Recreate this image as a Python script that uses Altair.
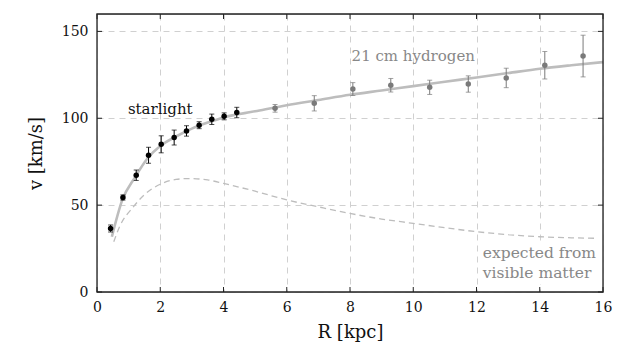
import altair as alt
import pandas as pd

# starlight measurements (kpc, km/s, error)
star_r = [0.43, 0.82, 1.24, 1.63, 2.03, 2.44, 2.83, 3.23, 3.63, 4.02, 4.42]
star_v = [36.6, 54.4, 67.2, 78.7, 85.0, 88.9, 92.7, 96.0, 99.4, 101.1, 103.3]
star_e = [2.0, 1.5, 3.0, 4.6, 4.9, 4.3, 3.0, 2.0, 3.0, 2.0, 3.0]

# 21 cm hydrogen measurements
h_r = [5.63, 6.87, 8.09, 9.29, 10.52, 11.74, 12.94, 14.16, 15.37]
h_v = [105.7, 108.6, 116.8, 119.0, 117.8, 119.7, 123.2, 130.5, 135.8]
h_e = [2.2, 4.4, 3.7, 3.9, 4.1, 4.7, 5.6, 7.9, 12.0]

# fitted rotation curve
fit_r = [0.47, 0.8, 1.2, 1.6, 2.0, 2.5, 3.0, 3.5, 4.0, 5.0, 6.0, 7.0, 8.0, 9.0,
         10.0, 11.0, 12.0, 13.0, 14.0, 15.0, 16.0]
fit_v = [31.8, 53.0, 66.0, 77.0, 84.0, 89.5, 94.0, 97.5, 100.5, 104.0, 107.5,
         110.5, 113.5, 116.0, 118.5, 121.0, 123.5, 126.0, 128.5, 130.5, 132.3]

# expected from visible matter
exp_r = [0.53, 0.7, 1.15, 1.5, 2.0, 2.5, 2.9, 3.5, 4.0, 5.0, 6.0, 7.0, 8.0,
         9.0, 10.0, 11.0, 12.0, 13.0, 14.0, 15.0, 15.8]
exp_v = [28.9, 37.0, 49.0, 56.0, 62.0, 64.8, 65.3, 64.5, 62.5, 58.0, 53.0,
         49.0, 45.2, 42.0, 39.5, 37.0, 34.7, 33.0, 31.8, 31.2, 30.9]

x_ticks = [0, 2, 4, 6, 8, 10, 12, 14, 16]
y_ticks = [0, 50, 100, 150]

W, H = 506, 278
FONT = "DejaVu Serif"
GRAY_LINE = "#bdbdbd"
GRAY_PT = "#7a7a7a"

star = pd.DataFrame({"r": star_r, "v": star_v, "e": star_e})
star["lo"] = star.v - star.e
star["hi"] = star.v + star.e
hyd = pd.DataFrame({"r": h_r, "v": h_v, "e": h_e})
hyd["lo"] = hyd.v - hyd.e
hyd["hi"] = hyd.v + hyd.e
fit = pd.DataFrame({"r": fit_r, "v": fit_v})
exp = pd.DataFrame({"r": exp_r, "v": exp_v})
xt = pd.DataFrame({"t": x_ticks})
yt = pd.DataFrame({"t": y_ticks})

xs = alt.Scale(domain=[0, 16], nice=False, zero=False)
ys = alt.Scale(domain=[0, 160], nice=False, zero=False)

X = alt.X("r:Q", scale=xs, axis=alt.Axis(
    values=x_ticks, title="R [kpc]", ticks=False, domain=False,
    labelFont=FONT, labelFontSize=14, labelColor="#111", labelPadding=8,
    titleFont=FONT, titleFontSize=18, titleFontWeight="normal", titleColor="#111",
    titlePadding=9, grid=True, gridDash=[6, 5], gridColor="#d0d0d0", labelFlush=False))
Y = alt.Y("v:Q", scale=ys, axis=alt.Axis(
    values=y_ticks, title="v [km/s]", ticks=False, domain=False,
    labelFont=FONT, labelFontSize=14, labelColor="#111", labelPadding=9,
    titleFont=FONT, titleFontSize=18, titleFontWeight="normal", titleColor="#111",
    titlePadding=16, grid=True, gridDash=[6, 5], gridColor="#d0d0d0", labelFlush=False))

one = pd.DataFrame({"a": [0]})
base_axes = alt.Chart(fit).mark_line(opacity=0).encode(x=X, y=Y)

mask = alt.Chart(one).mark_rect(color="white").encode(
    x=alt.datum(12.1, scale=xs), x2=alt.datum(15.95),
    y=alt.datum(4.5, scale=ys), y2=alt.datum(29))

exp_line = alt.Chart(exp).mark_line(color=GRAY_LINE, strokeDash=[6, 4], strokeWidth=1.3,
                                    interpolate="monotone").encode(
    x=alt.X("r:Q", scale=xs), y=alt.Y("v:Q", scale=ys))
fit_line = alt.Chart(fit).mark_line(color=GRAY_LINE, strokeWidth=2.6,
                                    interpolate="monotone").encode(
    x=alt.X("r:Q", scale=xs), y=alt.Y("v:Q", scale=ys))


def errs(df, color):
    bars = alt.Chart(df).mark_rule(color=color, strokeWidth=1).encode(
        x=alt.X("r:Q", scale=xs), y=alt.Y("lo:Q", scale=ys), y2="hi:Q")
    cap_lo = alt.Chart(df).mark_tick(color=color, orient="horizontal", size=5, thickness=1).encode(
        x=alt.X("r:Q", scale=xs), y=alt.Y("lo:Q", scale=ys))
    cap_hi = alt.Chart(df).mark_tick(color=color, orient="horizontal", size=5, thickness=1).encode(
        x=alt.X("r:Q", scale=xs), y=alt.Y("hi:Q", scale=ys))
    pts = alt.Chart(df).mark_circle(color=color, opacity=1, size=30).encode(
        x=alt.X("r:Q", scale=xs), y=alt.Y("v:Q", scale=ys))
    return [bars, cap_lo, cap_hi, pts]


tick_b = alt.Chart(xt).mark_rule(color="#222").encode(
    x=alt.X("t:Q", scale=xs), y=alt.value(H), y2=alt.value(H - 5))
tick_t = alt.Chart(xt).mark_rule(color="#222").encode(
    x=alt.X("t:Q", scale=xs), y=alt.value(0), y2=alt.value(5))
tick_l = alt.Chart(yt).mark_rule(color="#222").encode(
    y=alt.Y("t:Q", scale=ys), x=alt.value(0), x2=alt.value(5))
tick_r = alt.Chart(yt).mark_rule(color="#222").encode(
    y=alt.Y("t:Q", scale=ys), x=alt.value(W), x2=alt.value(W - 5))

frame = alt.Chart(one).mark_rect(fill=None, stroke="#222", strokeWidth=1.3).encode(
    x=alt.datum(0, scale=xs), x2=alt.datum(16),
    y=alt.datum(0, scale=ys), y2=alt.datum(160))

t_star = alt.Chart(one).mark_text(
    text="starlight", font=FONT, fontSize=15, color="#111", align="center", baseline="middle").encode(
    x=alt.datum(2.0, scale=xs), y=alt.datum(105.5, scale=ys))
t_h = alt.Chart(one).mark_text(
    text="21 cm hydrogen", font=FONT, fontSize=15, color="#888", align="center", baseline="middle").encode(
    x=alt.datum(10.0, scale=xs), y=alt.datum(136, scale=ys))
t_e = alt.Chart(one).mark_text(
    text=["expected from", "visible matter"], font=FONT, fontSize=15.5, color="#888",
    align="left", baseline="middle", lineHeight=20).encode(
    x=alt.datum(12.2, scale=xs), y=alt.datum(22.5, scale=ys))

layers = [base_axes, mask, t_e, exp_line, fit_line] + errs(hyd, GRAY_PT) + errs(star, "#000") + \
    [tick_b, tick_t, tick_l, tick_r, frame, t_star, t_h]

chart = alt.layer(*layers).properties(
    width=W, height=H,
    autosize=alt.AutoSizeParams(type="none"),
    padding={"left": 89, "top": 6, "right": 12, "bottom": 55},
).configure_view(stroke=None).configure(background="white")

chart.save("out.html", embed_options={"renderer": "svg", "actions": False})
